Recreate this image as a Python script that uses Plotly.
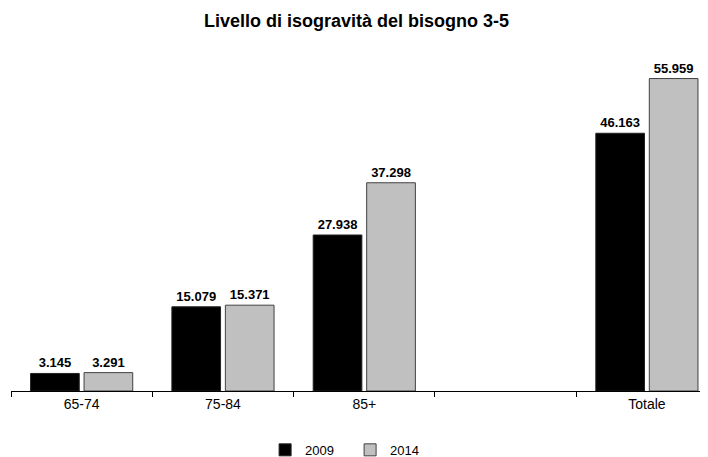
import plotly.graph_objects as go

categories = ["65-74", "75-84", "85+", " ", "Totale"]
values_2009 = [3145, 15079, 27938, None, 46163]
values_2014 = [3291, 15371, 37298, None, 55959]
series_names = ["2009", "2014"]

font = "Liberation Sans, Arial, sans-serif"

fig = go.Figure()
fig.add_trace(go.Bar(
    x=categories, y=values_2009, name=series_names[0],
    marker=dict(color="#000000", line=dict(color="#222222", width=1)),
    texttemplate="<b>%{y:,.0f}</b>", textposition="outside", cliponaxis=False,
    textfont=dict(family=font, size=13, color="#000000"),
))
fig.add_trace(go.Bar(
    x=categories, y=values_2014, name=series_names[1],
    marker=dict(color="#C0C0C0", line=dict(color="#404040", width=1)),
    texttemplate="<b>%{y:,.0f}</b>", textposition="outside", cliponaxis=False,
    textfont=dict(family=font, size=13, color="#000000"),
))

fig.update_layout(
    width=708, height=457,
    separators=",.",
    paper_bgcolor="white", plot_bgcolor="white",
    font=dict(family=font, size=13, color="#000000"),
    title=dict(text="<b>Livello di isogravità del bisogno 3-5</b>",
               x=0.49, xanchor="center", xref="paper", y=0.9716, yanchor="middle",
               font=dict(family=font, size=18, color="#000000")),
    margin=dict(l=3, r=0, t=48, b=74, pad=0),
    barmode="group", bargap=0.243, bargroupgap=0.09,
    showlegend=True,
    legend=dict(orientation="h", x=0.481, xanchor="center", y=-0.131, yanchor="top",
                font=dict(family=font, size=13), itemwidth=30,
                entrywidth=40, entrywidthmode="pixels",
                traceorder="normal", tracegroupgap=0),
    xaxis=dict(type="category", range=[-0.5, 4.489], automargin=False,
               showline=True, linecolor="#000000", linewidth=1,
               ticks="outside", tickson="boundaries", ticklen=5, tickcolor="#000000",
               showgrid=False, tickfont=dict(family=font, size=14)),
    yaxis=dict(range=[0, 60000], visible=False, showgrid=False, zeroline=False,
               automargin=False),
)

fig.write_html("out.html")
